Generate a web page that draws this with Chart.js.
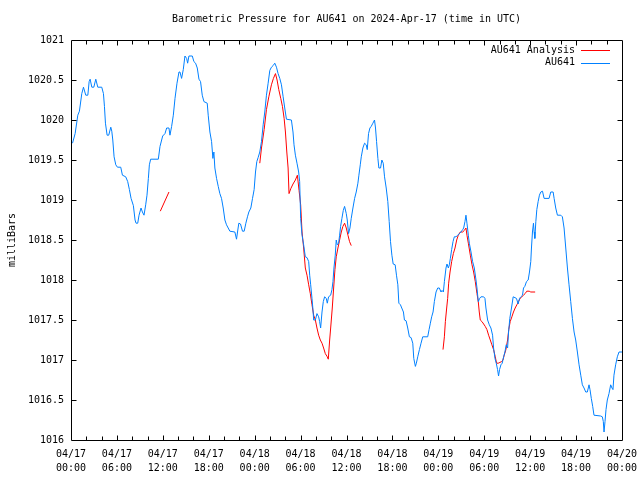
<!DOCTYPE html>
<html>
<head>
<meta charset="utf-8">
<script src="https://cdn.jsdelivr.net/npm/chart.js@4.4.1/dist/chart.umd.min.js"></script>
<style>
html,body{margin:0;padding:0;background:#fff;}
canvas{display:block;}
</style>
</head>
<body>
<canvas id="c" width="640" height="480"></canvas>
<script>
// ---- Data (x = hours since 2024-04-17 00:00 UTC) ----
const blueHours = [0.2,0.54,0.89,1.1,1.41,1.63,1.93,2.2,2.37,2.5,2.72,2.98,3.24,3.5,4.02,4.24,4.37,4.5,4.72,4.93,5.2,5.33,5.46,5.63,5.85,6.07,6.5,6.72,7.15,7.41,7.63,7.85,8.15,8.37,8.5,8.72,8.89,9.15,9.33,9.54,9.76,9.93,10.11,10.24,10.41,11.41,11.63,11.98,12.28,12.5,12.8,12.93,13.15,13.37,13.59,13.85,14.11,14.24,14.45,14.67,14.89,15.11,15.24,15.41,15.85,16.06,16.28,16.5,16.72,16.93,17.15,17.37,17.8,17.93,18.15,18.37,18.54,18.67,18.8,19.02,19.24,19.45,19.67,19.89,20.11,20.32,20.54,20.76,21.41,21.63,21.76,21.93,22.15,22.41,22.63,22.85,23.06,23.24,23.5,23.72,23.93,24.11,24.28,24.45,24.67,24.89,25.11,25.32,25.54,25.76,25.98,26.19,26.41,26.63,26.85,27.06,27.28,27.5,27.72,27.93,28.15,28.8,29.01,29.14,29.32,29.53,29.75,29.88,30.01,30.19,30.4,30.62,30.84,31.06,31.19,31.32,31.49,31.62,31.71,31.93,32.14,32.36,32.49,32.62,32.8,32.97,33.14,33.36,33.49,33.66,33.93,34.1,34.23,34.36,34.53,34.66,34.79,34.97,35.1,35.23,35.4,35.58,35.75,35.97,36.1,36.27,36.45,36.62,36.84,37.06,37.27,37.49,37.62,37.8,37.93,38.14,38.36,38.58,38.71,38.88,39.06,39.23,39.45,39.66,39.79,39.93,40.1,40.23,40.45,40.62,40.8,40.97,41.19,41.4,41.58,41.75,41.93,42.1,42.36,42.53,42.71,42.84,43.05,43.22,43.44,43.57,43.79,44.0,44.22,44.44,44.66,44.79,45.0,45.13,45.31,45.53,45.74,45.96,46.61,46.79,46.96,47.13,47.31,47.48,47.7,47.92,48.13,48.35,48.48,48.66,48.79,49.0,49.13,49.31,49.44,49.57,49.74,49.92,50.09,50.31,50.53,50.74,50.96,51.18,51.31,51.48,51.61,51.74,51.92,52.05,52.27,52.48,52.7,52.92,53.05,53.22,53.4,53.57,53.92,54.09,54.22,54.44,54.66,54.87,55.09,55.22,55.4,55.57,55.74,55.87,56.0,56.18,56.35,56.53,56.7,56.87,57.05,57.18,57.34,57.56,57.78,58.21,58.43,58.61,58.78,59.0,59.13,59.3,59.52,59.74,59.91,60.08,60.17,60.3,60.43,60.52,60.61,60.74,60.87,61.04,61.21,61.39,61.61,61.82,62.47,62.69,63.0,63.13,63.34,63.56,64.0,64.21,64.43,64.65,64.87,65.08,65.3,65.52,65.74,65.95,66.17,66.39,66.61,66.82,67.04,67.26,67.47,67.69,67.82,67.99,68.17,68.34,69.21,69.43,69.56,69.65,69.78,69.91,70.08,70.3,70.52,70.69,70.82,70.95,71.17,71.39,71.61,72.0];
const blueValues = [1019.71,1019.83,1020.06,1020.11,1020.33,1020.41,1020.31,1020.31,1020.48,1020.51,1020.41,1020.41,1020.51,1020.41,1020.41,1020.33,1020.17,1019.96,1019.81,1019.81,1019.91,1019.86,1019.75,1019.54,1019.44,1019.41,1019.41,1019.31,1019.29,1019.23,1019.13,1019.02,1018.93,1018.75,1018.71,1018.71,1018.81,1018.90,1018.85,1018.81,1018.94,1019.06,1019.27,1019.44,1019.51,1019.51,1019.67,1019.80,1019.83,1019.90,1019.90,1019.81,1019.92,1020.06,1020.27,1020.46,1020.60,1020.60,1020.52,1020.63,1020.80,1020.77,1020.71,1020.80,1020.80,1020.73,1020.71,1020.65,1020.51,1020.48,1020.31,1020.23,1020.21,1020.06,1019.85,1019.73,1019.52,1019.60,1019.40,1019.27,1019.17,1019.08,1019.02,1018.90,1018.75,1018.69,1018.65,1018.61,1018.60,1018.51,1018.60,1018.71,1018.70,1018.61,1018.61,1018.71,1018.79,1018.85,1018.90,1019.02,1019.13,1019.35,1019.48,1019.53,1019.60,1019.73,1019.94,1020.10,1020.31,1020.46,1020.62,1020.66,1020.68,1020.71,1020.66,1020.58,1020.52,1020.44,1020.29,1020.15,1020.01,1020.00,1019.85,1019.69,1019.56,1019.46,1019.35,1019.23,1018.77,1018.56,1018.44,1018.29,1018.28,1018.23,1018.06,1017.94,1017.77,1017.63,1017.50,1017.50,1017.58,1017.54,1017.48,1017.40,1017.60,1017.73,1017.79,1017.77,1017.71,1017.79,1017.81,1017.88,1017.98,1018.15,1018.31,1018.50,1018.44,1018.46,1018.56,1018.67,1018.77,1018.87,1018.92,1018.83,1018.75,1018.58,1018.65,1018.77,1018.90,1019.02,1019.10,1019.21,1019.31,1019.44,1019.54,1019.65,1019.71,1019.69,1019.63,1019.83,1019.90,1019.92,1019.96,1020.00,1019.90,1019.73,1019.52,1019.40,1019.40,1019.50,1019.46,1019.29,1019.15,1018.98,1018.73,1018.48,1018.31,1018.20,1018.19,1018.06,1017.94,1017.71,1017.69,1017.65,1017.60,1017.50,1017.49,1017.40,1017.29,1017.28,1017.21,1017.02,1016.92,1016.96,1017.04,1017.13,1017.21,1017.29,1017.29,1017.38,1017.46,1017.54,1017.60,1017.73,1017.85,1017.90,1017.90,1017.85,1017.87,1017.85,1017.98,1018.15,1018.20,1018.15,1018.19,1018.27,1018.38,1018.48,1018.54,1018.54,1018.56,1018.58,1018.60,1018.63,1018.65,1018.73,1018.81,1018.71,1018.56,1018.46,1018.35,1018.23,1018.15,1018.00,1017.90,1017.73,1017.77,1017.79,1017.79,1017.77,1017.65,1017.50,1017.44,1017.40,1017.31,1017.15,1017.02,1016.96,1016.88,1016.80,1016.88,1016.94,1016.96,1017.04,1017.10,1017.19,1017.15,1017.35,1017.52,1017.65,1017.79,1017.77,1017.70,1017.77,1017.79,1017.81,1017.90,1017.92,1017.98,1018.00,1018.10,1018.23,1018.40,1018.60,1018.71,1018.60,1018.52,1018.73,1018.88,1018.98,1019.06,1019.10,1019.11,1019.02,1019.02,1019.10,1019.10,1019.02,1018.90,1018.81,1018.81,1018.79,1018.65,1018.40,1018.15,1017.94,1017.73,1017.52,1017.35,1017.25,1017.10,1016.94,1016.81,1016.69,1016.65,1016.60,1016.60,1016.69,1016.63,1016.52,1016.42,1016.31,1016.30,1016.29,1016.23,1016.10,1016.23,1016.38,1016.50,1016.58,1016.69,1016.65,1016.63,1016.81,1016.94,1017.04,1017.10,1017.10];

// Analysis series; null marks a gap between analysis runs
const redHours = [11.67,12.8,
  18.0,
  24.67,24.89,25.24,25.54,25.85,26.19,26.45,26.72,26.93,27.15,27.41,27.63,27.85,28.02,28.2,28.37,28.49,28.71,29.01,29.32,29.58,29.8,30.01,30.19,30.4,30.62,30.84,31.06,31.27,31.49,31.71,31.93,32.14,32.36,32.58,32.8,33.01,33.23,33.49,33.62,33.8,33.93,34.14,34.32,34.49,34.66,34.88,35.1,35.32,35.53,35.75,35.97,36.19,36.4,36.62,
  42.0,
  48.61,48.79,48.92,49.09,49.22,49.35,49.53,49.74,49.96,50.18,50.4,50.61,50.87,51.18,51.4,51.61,51.74,51.92,52.18,52.4,52.61,52.83,53.05,53.22,53.35,53.48,53.7,53.92,54.13,54.35,54.57,54.79,55.0,55.22,55.44,55.61,55.83,56.05,56.27,56.44,56.61,56.83,57.05,57.2,57.39,57.61,57.82,58.04,58.26,58.47,58.69,58.91,59.13,59.34,59.56,59.87,60.08,60.65];
const redValues = [1018.86,1019.10,
  null,
  1019.46,1019.65,1019.88,1020.13,1020.29,1020.44,1020.52,1020.58,1020.50,1020.38,1020.27,1020.17,1020.02,1019.85,1019.60,1019.40,1019.08,1019.14,1019.20,1019.25,1019.31,1019.12,1018.94,1018.60,1018.40,1018.15,1018.06,1017.94,1017.83,1017.69,1017.56,1017.50,1017.40,1017.31,1017.25,1017.21,1017.15,1017.08,1017.04,1017.01,1017.25,1017.40,1017.65,1017.90,1018.13,1018.29,1018.40,1018.50,1018.60,1018.67,1018.71,1018.65,1018.56,1018.48,1018.43,
  null,
  1017.13,1017.29,1017.48,1017.65,1017.77,1017.96,1018.10,1018.23,1018.33,1018.40,1018.50,1018.56,1018.60,1018.60,1018.62,1018.65,1018.56,1018.46,1018.31,1018.19,1018.10,1017.98,1017.83,1017.73,1017.60,1017.50,1017.48,1017.45,1017.42,1017.38,1017.31,1017.25,1017.19,1017.13,1017.04,1016.96,1016.96,1016.97,1016.98,1017.00,1017.06,1017.13,1017.25,1017.38,1017.48,1017.54,1017.60,1017.65,1017.69,1017.73,1017.77,1017.79,1017.81,1017.83,1017.86,1017.86,1017.85,1017.85];

const xTickLabels = [["04/17","00:00"],["04/17","06:00"],["04/17","12:00"],["04/17","18:00"],
  ["04/18","00:00"],["04/18","06:00"],["04/18","12:00"],["04/18","18:00"],
  ["04/19","00:00"],["04/19","06:00"],["04/19","12:00"],["04/19","18:00"],["04/20","00:00"]];
const yTickLabels = ["1016","1016.5","1017","1017.5","1018","1018.5","1019","1019.5","1020","1020.5","1021"];

const titleText = "Barometric Pressure for AU641 on 2024-Apr-17 (time in UTC)";
const yTitleText = "milliBars";
const seriesNames = ["AU641 Analysis", "AU641"];
const seriesColors = ["#ff0000", "#0080ff"];

const FONT = "'DejaVu Sans Mono', 'Liberation Mono', monospace";

const bluePts = blueHours.map((h, i) => ({x: h, y: blueValues[i]}));
const redPts = redHours.map((h, i) => ({x: h, y: redValues[i]}));

const framePlugin = {
  id: 'frame',
  afterDraw(chart) {
    const ctx = chart.ctx;
    const a = chart.chartArea;
    const xs = chart.scales.x, ys = chart.scales.y;
    ctx.save();
    ctx.strokeStyle = '#000';
    ctx.lineWidth = 1;
    const L = Math.round(a.left) + 0.5, R = Math.round(a.right) + 0.5;
    const T = Math.round(a.top) + 0.5, B = Math.round(a.bottom) + 0.5;
    ctx.beginPath();
    ctx.rect(L, T, R - L, B - T);
    // x ticks every 2 hours, inward on bottom & top
    for (let h = 2; h < 72; h += 2) {
      const px = Math.round(xs.getPixelForValue(h)) + 0.5;
      const len = (h % 6 === 0) ? 5 : 4;
      ctx.moveTo(px, B); ctx.lineTo(px, B - len);
      ctx.moveTo(px, T); ctx.lineTo(px, T + len);
    }
    // y ticks inward on left & right
    for (let i = 1; i < yTickLabels.length - 1; i++) {
      const py = Math.round(ys.getPixelForValue(parseFloat(yTickLabels[i]))) + 0.5;
      ctx.moveTo(L, py); ctx.lineTo(L + 5, py);
      ctx.moveTo(R, py); ctx.lineTo(R - 5, py);
    }
    ctx.stroke();

    ctx.fillStyle = '#000';
    ctx.font = '10px ' + FONT;
    ctx.textBaseline = 'middle';
    // title
    ctx.textAlign = 'center';
    ctx.fillText(titleText, (a.left + a.right) / 2, 19);
    // y title
    ctx.save();
    ctx.translate(12, (a.top + a.bottom) / 2);
    ctx.rotate(-Math.PI / 2);
    ctx.fillText(yTitleText, 0, 0);
    ctx.restore();
    // legend
    ctx.textAlign = 'right';
    const rows = [50, 62.5];
    for (let i = 0; i < seriesNames.length; i++) {
      ctx.fillStyle = '#000';
      ctx.fillText(seriesNames[i], 575, rows[i]);
      ctx.strokeStyle = seriesColors[i];
      ctx.beginPath();
      ctx.moveTo(581, Math.round(rows[i]) + 0.5);
      ctx.lineTo(610, Math.round(rows[i]) + 0.5);
      ctx.stroke();
    }
    ctx.restore();
  }
};

new Chart(document.getElementById('c'), {
  type: 'line',
  data: {
    datasets: [
      {label: seriesNames[1], data: bluePts, borderColor: seriesColors[1], borderWidth: 1, pointRadius: 0, tension: 0, fill: false, order: 0},
      {label: seriesNames[0], data: redPts, borderColor: seriesColors[0], borderWidth: 1, pointRadius: 0, tension: 0, fill: false, spanGaps: false, order: 1}
    ]
  },
  options: {
    responsive: false,
    animation: false,
    devicePixelRatio: 1,
    layout: {padding: {top: 40, right: 18, left: 0, bottom: 0}},
    plugins: {legend: {display: false}, title: {display: false}, tooltip: {enabled: false}},
    scales: {
      x: {
        type: 'linear', min: 0, max: 72,
        grid: {display: false, drawTicks: false},
        border: {display: false},
        afterBuildTicks(s) { s.ticks = xTickLabels.map((_, i) => ({value: i * 6})); },
        afterFit(s) { s.height = 40; s.paddingLeft = 0; s.paddingRight = 0; },
        ticks: {
          autoSkip: false, maxRotation: 0, minRotation: 0, padding: 7, color: '#000',
          font: {family: FONT, size: 10, lineHeight: 1.4},
          callback: (v, i) => xTickLabels[i]
        }
      },
      y: {
        min: 1016, max: 1021,
        grid: {display: false, drawTicks: false},
        border: {display: false},
        afterBuildTicks(s) { s.ticks = yTickLabels.map(t => ({value: parseFloat(t)})); },
        afterFit(s) { s.width = 71; s.paddingTop = 0; s.paddingBottom = 0; },
        ticks: {
          padding: 7, color: '#000',
          font: {family: FONT, size: 10},
          callback: (v, i) => yTickLabels[i]
        }
      }
    }
  },
  plugins: [framePlugin]
});
</script>
</body>
</html>
